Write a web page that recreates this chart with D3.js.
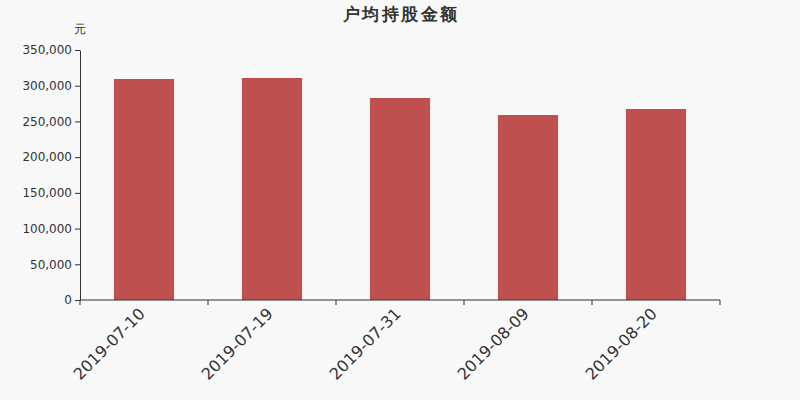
<!DOCTYPE html>
<html>
<head>
<meta charset="utf-8">
<script src="https://cdn.jsdelivr.net/npm/d3@7"></script>
<style>
  body { margin: 0; background: #f8f8f8; }
  svg { display: block; font-family: "DejaVu Sans", sans-serif; }
</style>
</head>
<body>
<script>
const svgWidth = 800
const svgHeight = 400

const margin = { top: 50, right: 80, bottom: 100, left: 80 }
const chartWidth = svgWidth - margin.left - margin.right
const chartHeight = svgHeight - margin.top - margin.bottom

const barColor = "#c0504d"
const textColor = "#333333"

// data
const dates = ["2019-07-10", "2019-07-19", "2019-07-31", "2019-08-09", "2019-08-20"]
const amounts = [309400, 310800, 282800, 259000, 267400]
const yTicks = [0, 50000, 100000, 150000, 200000, 250000, 300000, 350000]

const svg = d3.select("body").append("svg")
    .attr("width", svgWidth)
    .attr("height", svgHeight)

svg.append("rect")
    .attr("width", svgWidth)
    .attr("height", svgHeight)
    .attr("fill", "#f8f8f8")

svg.append("text")
    .attr("x", svgWidth / 2 + 1)
    .attr("y", 20)
    .attr("text-anchor", "middle")
    .attr("font-size", 17)
    .attr("letter-spacing", 2.5)
    .attr("font-weight", "bold")
    .attr("fill", textColor)
    .text("户均持股金额")

svg.append("text")
    .attr("x", 80)
    .attr("y", 33)
    .attr("text-anchor", "middle")
    .attr("font-size", 12)
    .attr("fill", textColor)
    .text("元")

const chartG = svg.append("g")
    .attr("transform", `translate(${margin.left}, ${margin.top})`)

const x = d3.scaleBand()
    .domain(dates)
    .range([0, chartWidth])
    .paddingInner(0.53)
    .paddingOuter(0.265)

const xOuter = d3.scaleBand()
    .domain(dates)
    .range([0, chartWidth])

const y = d3.scaleLinear()
    .domain([0, 350000])
    .range([chartHeight, 0])

const yAxis = d3.axisLeft(y)
    .tickValues(yTicks)
    .tickFormat(d3.format(","))
    .tickSize(5)
    .tickSizeOuter(0)

const yG = chartG.append("g").call(yAxis)
yG.select(".domain").attr("stroke", textColor)
yG.selectAll(".tick line").attr("stroke", textColor)
yG.selectAll(".tick text")
    .attr("font-size", 12)
    .attr("fill", textColor)
    .attr("font-family", "DejaVu Sans, sans-serif")

chartG.selectAll("rect.bar")
    .data(amounts)
    .join("rect")
    .attr("class", "bar")
    .attr("x", (d, i) => x(dates[i]))
    .attr("y", d => y(d))
    .attr("width", x.bandwidth())
    .attr("height", d => chartHeight - y(d))
    .attr("fill", barColor)

// x axis: ticks on band boundaries, labels at band centres
const xG = chartG.append("g")
    .attr("transform", `translate(0, ${chartHeight})`)

xG.append("line")
    .attr("x1", 0)
    .attr("x2", chartWidth)
    .attr("stroke", textColor)

const boundaries = dates.map(d => xOuter(d)).concat([chartWidth])
xG.selectAll("line.tick")
    .data(boundaries)
    .join("line")
    .attr("class", "tick")
    .attr("x1", d => d)
    .attr("x2", d => d)
    .attr("y2", 5)
    .attr("stroke", textColor)

xG.selectAll("text")
    .data(dates)
    .join("text")
    .attr("transform", d => `translate(${xOuter(d) + xOuter.bandwidth() / 2 - 6}, 7) rotate(-45)`)
    .attr("text-anchor", "end")
    .attr("dy", "0.7em")
    .attr("font-size", 16)
    .attr("fill", textColor)
    .text(d => d)
</script>
</body>
</html>
